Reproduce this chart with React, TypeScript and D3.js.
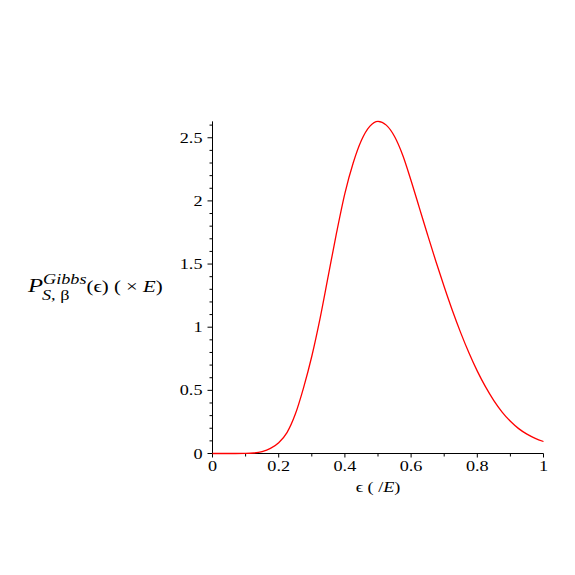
import React, { useEffect, useRef } from 'react';
import * as d3 from 'd3';

// energy fraction of the subsystem (in units of E)
const epsilon = [
  0, 0.05, 0.1, 0.125, 0.15, 0.175, 0.2, 0.225, 0.25, 0.275, 0.3, 0.325, 0.35, 0.375,
  0.4, 0.425, 0.45, 0.475, 0.5, 0.525, 0.55, 0.575, 0.6, 0.625, 0.65, 0.675, 0.7,
  0.725, 0.75, 0.775, 0.8, 0.825, 0.85, 0.875, 0.9, 0.925, 0.95, 0.975, 1,
];
// probability density
const density = [
  0, 0, 0.001, 0.004, 0.015, 0.04, 0.085, 0.165, 0.31, 0.52, 0.77, 1.07, 1.41, 1.75,
  2.06, 2.3, 2.48, 2.59, 2.63, 2.6, 2.51, 2.36, 2.16, 1.945, 1.73, 1.52, 1.32,
  1.13, 0.955, 0.795, 0.652, 0.527, 0.419, 0.328, 0.255, 0.197, 0.153, 0.12, 0.095,
];
const xTicks = [0, 0.2, 0.4, 0.6, 0.8, 1];
const yTicks = [0, 0.5, 1, 1.5, 2, 2.5];

const serif = '"Liberation Serif", "Times New Roman", serif';
const stretch = 1.3; // the reference glyphs are drawn wide

export default function App() {
  const ref = useRef<SVGSVGElement>(null);

  useEffect(() => {
    const svg = d3.select(ref.current);
    svg.selectAll('*').remove();

    const left = 212.5;
    const right = 543.5;
    const bottom = 453.5;
    const data = epsilon.map((e, i) => ({ e, v: density[i] }));
    const yMax = d3.max(density) as number;

    const x = d3.scaleLinear().domain([0, 1]).range([left, right]);
    const y = d3.scaleLinear().domain([0, yMax]).range([bottom, bottom - 126.3 * yMax]);

    const g = svg.append('g').attr('font-family', serif).attr('fill', '#000');
    const at = (px: number, py: number) => `translate(${px},${py}) scale(${stretch},1)`;

    // x axis
    const xAxis = g.append('g');
    xAxis.append('line')
      .attr('x1', x(0)).attr('x2', x(1))
      .attr('y1', bottom).attr('y2', bottom)
      .attr('stroke', '#000');
    xAxis.selectAll('.xminor')
      .data(d3.range(0, 11).map(i => i / 10))
      .join('line')
      .attr('x1', d => x(d)).attr('x2', d => x(d))
      .attr('y1', bottom).attr('y2', d => bottom + (Math.round(d * 10) % 2 === 0 ? 4 : 3))
      .attr('stroke', '#000');
    xAxis.selectAll('text')
      .data(xTicks)
      .join('text')
      .attr('transform', d => at(x(d), bottom + 17))
      .attr('text-anchor', 'middle')
      .attr('font-size', 14)
      .text(d => String(d));

    // y axis
    const yAxis = g.append('g');
    yAxis.append('line')
      .attr('x1', left).attr('x2', left)
      .attr('y1', y(0)).attr('y2', y(yMax))
      .attr('stroke', '#000');
    yAxis.selectAll('.yminor')
      .data(d3.range(0, 27).map(i => i / 10))
      .join('line')
      .attr('x1', left)
      .attr('x2', d => left - (Math.round(d * 10) % 5 === 0 ? 5 : 3))
      .attr('y1', d => y(d)).attr('y2', d => y(d))
      .attr('stroke', '#000');
    yAxis.selectAll('text')
      .data(yTicks)
      .join('text')
      .attr('transform', d => at(left - 10, y(d) + 5))
      .attr('text-anchor', 'end')
      .attr('font-size', 14)
      .text(d => String(d));

    // curve
    const line = d3.line<{ e: number; v: number }>()
      .x(d => x(d.e))
      .y(d => y(d.v))
      .curve(d3.curveMonotoneX);
    g.append('path')
      .datum(data)
      .attr('d', line)
      .attr('fill', 'none')
      .attr('stroke', '#ff0000')
      .attr('stroke-width', 1.3);

    // x label
    const xl = g.append('text')
      .attr('transform', at(x(0.5), 492))
      .attr('text-anchor', 'middle')
      .attr('font-size', 14);
    xl.append('tspan').text('ϵ ( /');
    xl.append('tspan').attr('font-style', 'italic').text('E');
    xl.append('tspan').text(')');

    // y label
    const yl = g.append('text').attr('transform', at(28, 292)).attr('font-size', 16);
    yl.append('tspan').attr('font-style', 'italic').attr('font-size', 19).text('P');
    yl.append('tspan').attr('font-style', 'italic').attr('font-size', 14).attr('dy', -8).text('Gibbs');
    yl.append('tspan').attr('dy', 8).text('(ϵ) (  ×  ');
    yl.append('tspan').attr('font-style', 'italic').text('E');
    yl.append('tspan').text(')');
    const sub = g.append('text').attr('transform', at(42, 300)).attr('font-size', 14);
    sub.append('tspan').attr('font-style', 'italic').text('S');
    sub.append('tspan').text(', β');
  }, []);

  return (
    <svg ref={ref} width={575} height={575} style={{ position: 'absolute', left: 0, top: 0 }} />
  );
}
